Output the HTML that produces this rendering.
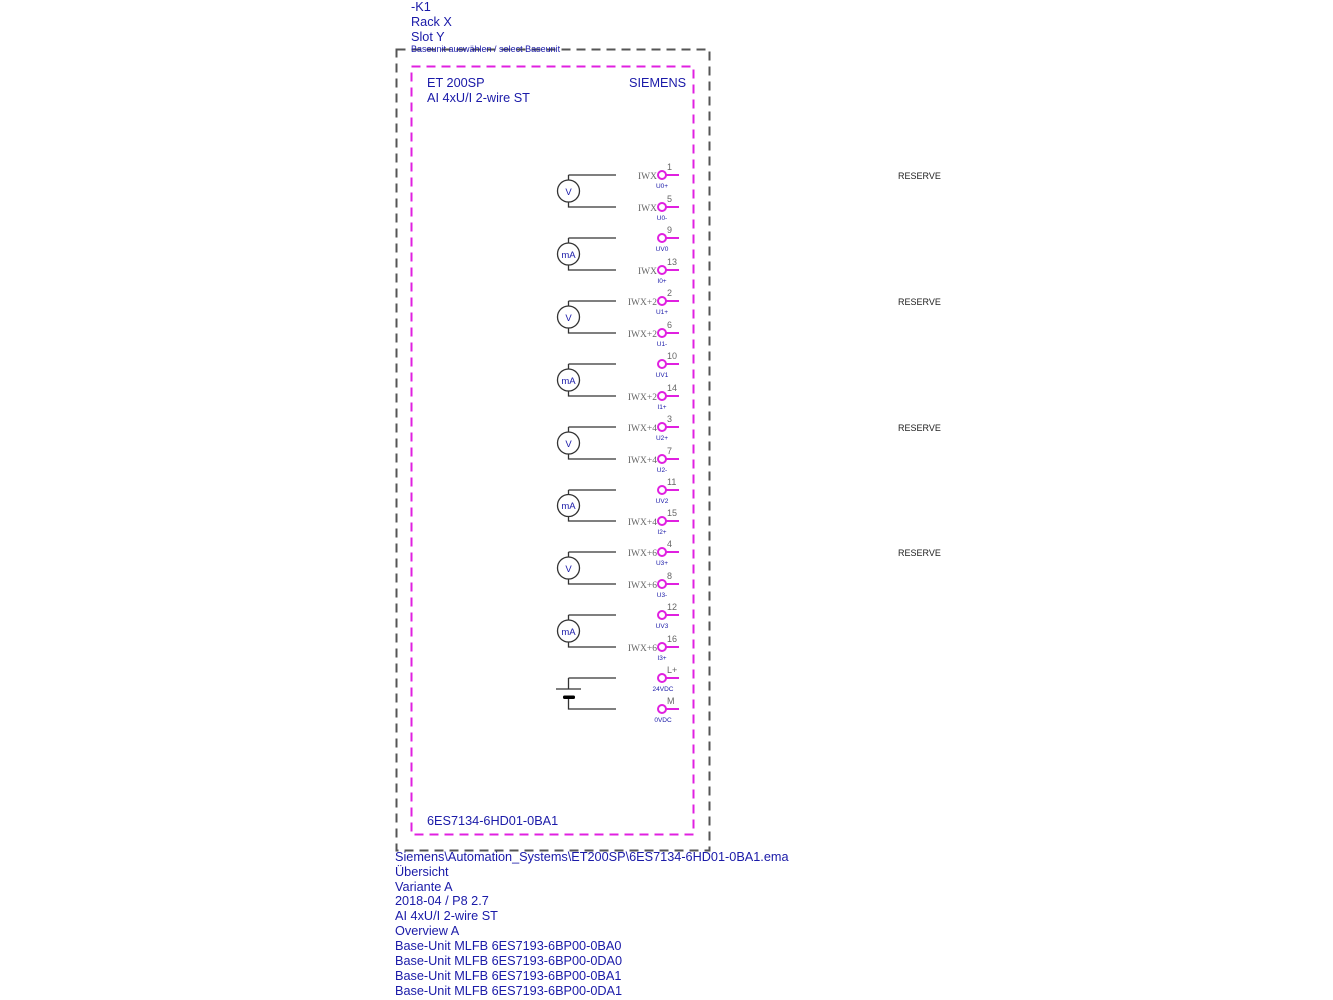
<!DOCTYPE html>
<html><head><meta charset="utf-8"><style>
html,body{margin:0;padding:0;background:#fff;}
svg{display:block;}
.b{font-family:"Liberation Sans","DejaVu Sans",sans-serif;font-size:12.7px;fill:#1a1aa8;}
.n{font-family:"Liberation Sans",sans-serif;font-size:9px;fill:#666;}
.i{font-family:"Liberation Serif",serif;font-size:9.5px;fill:#666;text-anchor:end;}
.s{font-family:"Liberation Sans",sans-serif;font-size:6.5px;fill:#1a1aa8;text-anchor:middle;}
.r{font-family:"Liberation Sans",sans-serif;font-size:9px;fill:#222;}
.u{font-family:"Liberation Sans",sans-serif;font-size:9px;fill:#1a1aa8;}
</style></head><body>
<svg width="1333" height="1000" viewBox="0 0 1333 1000" xmlns="http://www.w3.org/2000/svg">
<text class="b" x="411" y="11">-K1</text>
<text class="b" x="411" y="26">Rack X</text>
<text class="b" x="411" y="41">Slot Y</text>
<rect x="396.5" y="49.5" width="313" height="801" fill="none" stroke="#555" stroke-width="2" stroke-dasharray="9,6"/>
<text class="u" x="411" y="52">Baseunit auswählen / select Baseunit</text>
<rect x="411.5" y="66.5" width="282" height="768" fill="none" stroke="#e020e0" stroke-width="2" stroke-dasharray="9,6"/>
<text class="b" x="427" y="87">ET 200SP</text>
<text class="b" x="427" y="102">AI 4xU/I 2-wire ST</text>
<text class="b" x="629" y="87">SIEMENS</text>
<text class="b" x="427" y="825">6ES7134-6HD01-0BA1</text>

<g stroke="#333" stroke-width="1.3" fill="none">
<path d="M568.5 175H616M568.5 175V180M568.5 202V207H616"/>
<path d="M568.5 238H616M568.5 238V243M568.5 265V270H616"/>
<path d="M568.5 301H616M568.5 301V306M568.5 328V333H616"/>
<path d="M568.5 364H616M568.5 364V369M568.5 391V396H616"/>
<path d="M568.5 427H616M568.5 427V432M568.5 454V459H616"/>
<path d="M568.5 490H616M568.5 490V495M568.5 517V521H616"/>
<path d="M568.5 552H616M568.5 552V557M568.5 579V584H616"/>
<path d="M568.5 615H616M568.5 615V620M568.5 642V647H616"/>
<path d="M568.5 678H616M568.5 678V689M556 689H581M568.5 697V709H616"/>
<circle cx="568.5" cy="191" r="11"/><circle cx="568.5" cy="254" r="11"/>
<circle cx="568.5" cy="317" r="11"/><circle cx="568.5" cy="380" r="11"/>
<circle cx="568.5" cy="443" r="11"/><circle cx="568.5" cy="505.5" r="11"/>
<circle cx="568.5" cy="568" r="11"/><circle cx="568.5" cy="631" r="11"/>
</g>
<rect x="563" y="695.5" width="12" height="3.5" rx="1.5" fill="#000"/>
<g class="u" text-anchor="middle" style="font-size:9.5px">
<text x="568.5" y="195">V</text><text x="568.5" y="258">mA</text>
<text x="568.5" y="321">V</text><text x="568.5" y="384">mA</text>
<text x="568.5" y="447">V</text><text x="568.5" y="509">mA</text>
<text x="568.5" y="572">V</text><text x="568.5" y="635">mA</text>
</g>

<g stroke="#e020e0" stroke-width="2" fill="none">
<circle cx="662" cy="175" r="4"/><path d="M666 175H679"/>
<circle cx="662" cy="207" r="4"/><path d="M666 207H679"/>
<circle cx="662" cy="238" r="4"/><path d="M666 238H679"/>
<circle cx="662" cy="270" r="4"/><path d="M666 270H679"/>
<circle cx="662" cy="301" r="4"/><path d="M666 301H679"/>
<circle cx="662" cy="333" r="4"/><path d="M666 333H679"/>
<circle cx="662" cy="364" r="4"/><path d="M666 364H679"/>
<circle cx="662" cy="396" r="4"/><path d="M666 396H679"/>
<circle cx="662" cy="427" r="4"/><path d="M666 427H679"/>
<circle cx="662" cy="459" r="4"/><path d="M666 459H679"/>
<circle cx="662" cy="490" r="4"/><path d="M666 490H679"/>
<circle cx="662" cy="521" r="4"/><path d="M666 521H679"/>
<circle cx="662" cy="552" r="4"/><path d="M666 552H679"/>
<circle cx="662" cy="584" r="4"/><path d="M666 584H679"/>
<circle cx="662" cy="615" r="4"/><path d="M666 615H679"/>
<circle cx="662" cy="647" r="4"/><path d="M666 647H679"/>
<circle cx="662" cy="678" r="4"/><path d="M666 678H679"/>
<circle cx="662" cy="709" r="4"/><path d="M666 709H679"/>
</g>

<g class="n">
<text x="667" y="170">1</text><text x="667" y="202">5</text><text x="667" y="233">9</text><text x="667" y="265">13</text>
<text x="667" y="296">2</text><text x="667" y="328">6</text><text x="667" y="359">10</text><text x="667" y="391">14</text>
<text x="667" y="422">3</text><text x="667" y="454">7</text><text x="667" y="485">11</text><text x="667" y="516">15</text>
<text x="667" y="547">4</text><text x="667" y="579">8</text><text x="667" y="610">12</text><text x="667" y="642">16</text>
<text x="667" y="673">L+</text><text x="667" y="704">M</text>
</g>
<g class="i">
<text x="657" y="179">IWX</text><text x="657" y="211">IWX</text><text x="657" y="274">IWX</text>
<text x="657" y="305">IWX+2</text><text x="657" y="337">IWX+2</text><text x="657" y="400">IWX+2</text>
<text x="657" y="431">IWX+4</text><text x="657" y="463">IWX+4</text><text x="657" y="525">IWX+4</text>
<text x="657" y="556">IWX+6</text><text x="657" y="588">IWX+6</text><text x="657" y="651">IWX+6</text>
</g>
<g class="s">
<text x="662" y="188">U0+</text><text x="662" y="220">U0-</text><text x="662" y="251">UV0</text><text x="662" y="283">I0+</text>
<text x="662" y="314">U1+</text><text x="662" y="346">U1-</text><text x="662" y="377">UV1</text><text x="662" y="409">I1+</text>
<text x="662" y="440">U2+</text><text x="662" y="472">U2-</text><text x="662" y="503">UV2</text><text x="662" y="534">I2+</text>
<text x="662" y="565">U3+</text><text x="662" y="597">U3-</text><text x="662" y="628">UV3</text><text x="662" y="660">I3+</text>
<text x="663" y="691">24VDC</text><text x="663" y="722">0VDC</text>
</g>
<g class="r">
<text x="898" y="179">RESERVE</text><text x="898" y="305">RESERVE</text>
<text x="898" y="431">RESERVE</text><text x="898" y="556">RESERVE</text>
</g>

<g class="b">
<text x="395" y="861">Siemens\Automation_Systems\ET200SP\6ES7134-6HD01-0BA1.ema</text>
<text x="395" y="876">Übersicht</text>
<text x="395" y="891">Variante A</text>
<text x="395" y="905">2018-04 / P8 2.7</text>
<text x="395" y="920">AI 4xU/I 2-wire ST</text>
<text x="395" y="935">Overview A</text>
<text x="395" y="950">Base-Unit MLFB 6ES7193-6BP00-0BA0</text>
<text x="395" y="965">Base-Unit MLFB 6ES7193-6BP00-0DA0</text>
<text x="395" y="980">Base-Unit MLFB 6ES7193-6BP00-0BA1</text>
<text x="395" y="995">Base-Unit MLFB 6ES7193-6BP00-0DA1</text>
</g>
</svg>
</body></html>
